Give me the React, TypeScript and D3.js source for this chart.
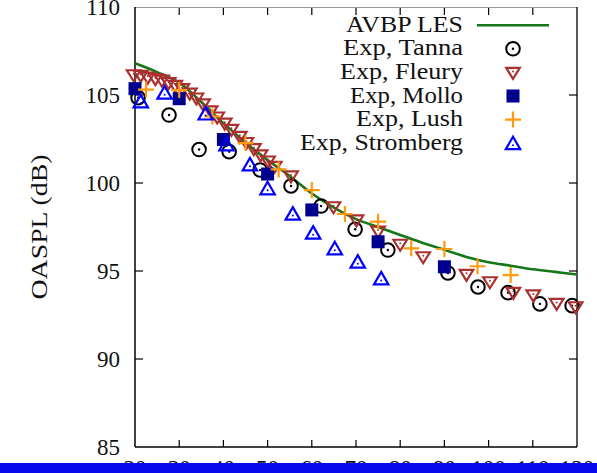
import React from 'react'
import * as d3 from 'd3'

// AVBP LES curve
const lesAngle = [20, 25, 30, 35, 40, 45, 50, 55, 60, 65, 70, 75, 80, 85, 90, 95, 100, 105, 110, 115, 120]
const lesOaspl = [106.8, 106.3, 105.7, 104.6, 103.4, 102.3, 101.3, 100.4, 99.4, 98.6, 97.95, 97.5, 97.05, 96.6, 96.2, 95.8, 95.5, 95.3, 95.1, 94.95, 94.8]

const tannaAngle = [20.7, 27.7, 34.5, 41.3, 48.3, 55.3, 62.1, 69.8, 77.2, 90.8, 97.6, 104.4, 111.6, 118.9]
const tannaOaspl = [104.85, 103.86, 101.9, 101.78, 100.74, 99.83, 98.69, 97.37, 96.19, 94.89, 94.09, 93.77, 93.13, 93.03]

const fleuryAngle = [19.7, 21.3, 22.9, 24.6, 26.1, 27.6, 29.1, 30.7, 32.4, 33.9, 35.4, 37.1, 38.6, 40.3, 41.8, 43.7, 45.2, 46.9, 48.4, 50.1, 51.6, 55.3, 64.9, 70.1, 75.0, 80.0, 85.2, 95.0, 100.3, 105.6, 110.1, 115.4, 119.7]
const fleuryOaspl = [106.15, 106.12, 106.02, 105.93, 105.84, 105.7, 105.55, 105.36, 105.11, 104.83, 104.5, 104.1, 103.75, 103.4, 103.05, 102.65, 102.3, 101.95, 101.6, 101.25, 100.95, 100.4, 98.65, 97.9, 97.27, 96.52, 95.81, 94.81, 94.39, 93.79, 93.64, 93.16, 92.97]

const molloAngle = [20, 30, 40, 50, 60, 75, 90]
const molloOaspl = [105.36, 104.79, 102.47, 100.51, 98.47, 96.66, 95.24]

const lushAngle = [22.5, 30, 37.5, 45, 52.5, 60, 67.5, 75, 82.5, 90, 97.5, 105]
const lushOaspl = [105.31, 105.28, 103.78, 102.27, 100.77, 99.6, 98.24, 97.8, 96.29, 96.25, 95.27, 94.77]

const strombergAngle = [21.3, 26.7, 36, 40.7, 46, 50, 55.7, 60.3, 65.2, 70.4, 75.7]
const strombergOaspl = [104.64, 105.13, 103.95, 102.2, 101.06, 99.7, 98.26, 97.18, 96.29, 95.53, 94.58]

const xTicks = [20, 30, 40, 50, 60, 70, 80, 90, 100, 110, 120]
const yTicks = [85, 90, 95, 100, 105, 110]

const legendLabels = ['AVBP LES', 'Exp, Tanna', 'Exp, Fleury', 'Exp, Mollo', 'Exp, Lush', 'Exp, Stromberg']
const legendWidths = [117, 120, 123, 113, 107, 163]

const W = 597
const H = 473
const font = '"Liberation Serif", "DejaVu Serif", serif'

const GREEN = '#167716'
const BROWN = '#aa3030'
const NAVY = '#00008e'
const ORANGE = '#ff9a10'
const BLUE = '#0000ff'

const zip = (a: number[], b: number[]) => a.map((v, i) => [v, b[i]] as [number, number])

const Circle = ({ x, y }: { x: number; y: number }) => (
  <g>
    <circle cx={x} cy={y} r={6.8} fill="none" stroke="#000" strokeWidth={2} />
    <circle cx={x} cy={y} r={1.2} fill="#000" />
  </g>
)
const Down = ({ x, y }: { x: number; y: number }) => (
  <g>
    <path d={`M${x - 6.8},${y - 4.5}L${x + 6.8},${y - 4.5}L${x},${y + 6.5}Z`} fill="none" stroke={BROWN} strokeWidth={2.2} />
    <circle cx={x} cy={y - 1} r={1} fill={BROWN} />
  </g>
)
const Square = ({ x, y }: { x: number; y: number }) => (
  <rect x={x - 6.5} y={y - 6.5} width={13} height={13} fill={NAVY} />
)
const Plus = ({ x, y }: { x: number; y: number }) => (
  <path d={`M${x - 8},${y}H${x + 8}M${x},${y - 8}V${y + 8}`} stroke={ORANGE} strokeWidth={2.2} />
)
const Up = ({ x, y }: { x: number; y: number }) => (
  <g>
    <path d={`M${x},${y - 6.5}L${x + 7.2},${y + 6}L${x - 7.2},${y + 6}Z`} fill="none" stroke={BLUE} strokeWidth={2.2} />
    <circle cx={x} cy={y + 2} r={1} fill={BLUE} />
  </g>
)

export default function App() {
  const x = d3.scaleLinear().domain([20, 120]).range([135, 577])
  const y = d3.scaleLinear().domain([85, 110]).range([447, 7])

  const line = d3.line<[number, number]>()
    .x(d => x(d[0]))
    .y(d => y(d[1]))
    .curve(d3.curveCatmullRom)

  const markers = [null, Circle, Down, Square, Plus, Up]

  return (
    <svg width={W} height={H} style={{ position: 'absolute', left: 0, top: 0, background: '#fff' }} fontFamily={font}>
      <rect width={W} height={H} fill="#fff" />

      {/* axis frame */}
      <line x1={135} x2={577} y1={7.5} y2={7.5} stroke="#999" strokeWidth={1} />
      <line x1={135} x2={135} y1={7} y2={447} stroke="#000" strokeWidth={1.5} />
      <line x1={577} x2={577} y1={7} y2={447} stroke="#222" strokeWidth={1.5} />
      <line x1={135} x2={577} y1={447} y2={447} stroke="#000" strokeWidth={1.5} />

      {xTicks.slice(1, -1).map(t => (
        <g key={'xt' + t}>
          <line x1={x(t)} x2={x(t)} y1={447} y2={440} stroke="#000" strokeWidth={1.2} />
          <line x1={x(t)} x2={x(t)} y1={8} y2={15} stroke="#000" strokeWidth={1.2} />
        </g>
      ))}
      {yTicks.slice(1, -1).map(t => (
        <g key={'yt' + t}>
          <line x1={135} x2={143} y1={y(t)} y2={y(t)} stroke="#000" strokeWidth={1.2} />
          <line x1={577} x2={569} y1={y(t)} y2={y(t)} stroke="#000" strokeWidth={1.2} />
        </g>
      ))}

      {yTicks.map(t => (
        <text key={'yl' + t} x={120} y={y(t) + 7.5} textAnchor="end" fontSize={23} fill="#111">{t}</text>
      ))}
      {xTicks.map(t => (
        <text key={'xl' + t} x={x(t)} y={476} textAnchor="middle" fontSize={23} fill="#111">{t}</text>
      ))}

      <text transform="translate(47,227) rotate(-90)" textAnchor="middle" fontSize={23} fill="#111"
        textLength={145} lengthAdjust="spacingAndGlyphs">OASPL (dB)</text>

      {/* data */}
      <path d={line(zip(lesAngle, lesOaspl)) || ''} fill="none" stroke={GREEN} strokeWidth={2.6} />
      {zip(tannaAngle, tannaOaspl).map((d, i) => <Circle key={'ta' + i} x={x(d[0])} y={y(d[1])} />)}
      {zip(fleuryAngle, fleuryOaspl).map((d, i) => <Down key={'fl' + i} x={x(d[0])} y={y(d[1])} />)}
      {zip(molloAngle, molloOaspl).map((d, i) => <Square key={'mo' + i} x={x(d[0])} y={y(d[1])} />)}
      {zip(lushAngle, lushOaspl).map((d, i) => <Plus key={'lu' + i} x={x(d[0])} y={y(d[1])} />)}
      {zip(strombergAngle, strombergOaspl).map((d, i) => <Up key={'st' + i} x={x(d[0])} y={y(d[1])} />)}

      {/* legend */}
      {legendLabels.map((label, i) => {
        const base = 31.7 + i * 23.6
        const M = markers[i]
        return (
          <g key={'lg' + i}>
            <text x={463} y={base} textAnchor="end" fontSize={23} fill="#111"
              textLength={legendWidths[i]} lengthAdjust="spacingAndGlyphs">{label}</text>
            {M ? <M x={513} y={base - 6.5} /> : (
              <line x1={477} x2={549} y1={base - 6.5} y2={base - 6.5} stroke={GREEN} strokeWidth={2.6} />
            )}
          </g>
        )
      })}

      {/* slide frame bar */}
      <rect x={0} y={463} width={W} height={10} fill="#0a0aee" />
    </svg>
  )
}
